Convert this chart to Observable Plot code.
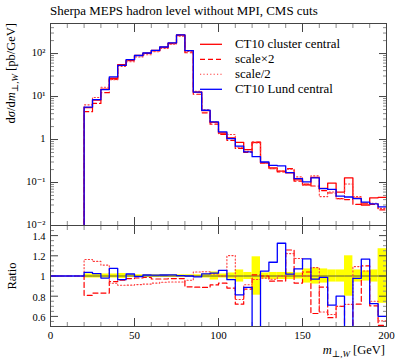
<!DOCTYPE html>
<html><head><meta charset="utf-8">
<script src="https://cdn.jsdelivr.net/npm/d3@7"></script>
<script src="https://cdn.jsdelivr.net/npm/@observablehq/plot@0.6"></script>
<style>
html,body{margin:0;padding:0;background:#fff;}
#chart{position:relative;width:399px;height:360px;}
#chart svg{display:block;}
</style></head><body><div id="chart"></div>
<script>
// ---- data ----
const binLow = [0,5,10,15,20,25,30,35,40,45,50,55,60,65,70,75,80,85,90,95,100,105,110,115,120,125,130,135,140,145,150,155,160,165,170,175,180,185,190,195];
const binWidth = 5;
const clusterCentral = [0,0,0,0,5.5,8.3,14.8,26.6,55,70.6,90.6,102,118,140.6,175,270,117,12.7,4.7,2.5,1.42,1.09,0.86,0.58,0.86,0.286,0.22,0.185,0.167,0.115,0.088,0.132,0.073,0.097,0.06,0.128,0.043,0.030,0.044,0.045];
const scaleTimes2 = [0,0,0,0,4.45,6.9,12.3,25.1,52.8,68.8,88.8,100.5,114.5,136.4,170.6,263,104.5,11.3,4.17,2.28,1.32,0.96,0.62,0.505,0.87,0.286,0.209,0.176,0.21,0.107,0.0915,0.083,0.065,0.057,0.042,0.04,0.031,0.033,0.031,0.023];
const scaleHalf = [0,0,0,0,6.4,9.5,16.4,24.7,50,64.2,82.9,93.8,109.7,132,164.5,254,112,13.2,4.9,2.55,1.42,1.31,0.66,0.53,0.83,0.28,0.213,0.185,0.204,0.135,0.088,0.143,0.047,0.06,0.042,0.092,0.047,0.0315,0.033,0.025];
const lundCentral = [0,0,0,0,5.7,8.5,14.5,28.6,53,72,90,103,119,142,177,271,117,12.6,4.8,2.57,1.5,1.05,0.70,0.515,0.40,0.30,0.25,0.245,0.17,0.123,0.103,0.128,0.072,0.069,0.048,0.046,0.042,0.035,0.032,0.027];
const clusterRelErr = [0,0,0,0,0.02,0.02,0.02,0.02,0.025,0.012,0.012,0.012,0.012,0.012,0.012,0.012,0.012,0.012,0.02,0.04,0.02,0.03,0.06,0.035,0.19,0.03,0.035,0.035,0.035,0.03,0.07,0.08,0.07,0.06,0.06,0.2,0.06,0.05,0.06,0.27];

const seriesNames = ["CT10 cluster central","scale\u00d72","scale/2","CT10 Lund central"];
const xTicks = [0,50,100,150,200];
const xTickLabels = ["0","50","100","150","200"];
const yTicksTop = [0.01,0.1,1,10,100];
const yTickLabelsTop = ["10\u207b\u00b2","10\u207b\u00b9","1","10\u00b9","10\u00b2"];
const ratioTicks = [0.6,0.8,1,1.2,1.4];
const ratioTickLabels = ["0.6","0.8","1","1.2","1.4"];
const titleText = "Sherpa MEPS hadron level without MPI, CMS cuts";

// ---- styles ----
const FONT = "'Liberation Serif','DejaVu Serif',serif";
const RED = "#ff0000", BLUE = "#0000ff";
const styles = [
  {stroke: RED, strokeWidth: 1.3},
  {stroke: RED, strokeWidth: 1.2, strokeDasharray: "5,3"},
  {stroke: "#ff3a3a", strokeWidth: 1.1, strokeDasharray: "1.2,2.2"},
  {stroke: BLUE, strokeWidth: 1.3}
];
const allSeries = [clusterCentral, scaleTimes2, scaleHalf, lundCentral];

function stepPoints(vals, f) {
  const pts = binLow.map((x, i) => ({x, y: f(vals[i], i)}));
  const n = vals.length - 1;
  pts.push({x: binLow[n] + binWidth, y: f(vals[n], n)});
  return pts;
}

const xMinor = d3.range(0, 201, 10).filter(v => !xTicks.includes(v));
const yMinorTop = [];
for (let e = -2; e <= 2; e++) for (let m = 2; m < 10; m++) { const v = m * Math.pow(10, e); if (v < 500) yMinorTop.push(v); }
const ratioMinor = d3.range(0.5, 1.5001, 0.05).map(v => +v.toFixed(2)).filter(v => !ratioTicks.some(t => Math.abs(t - v) < 1e-9));

function frameTicks(xMaj, xMin, yMaj, yMin) {
  const M = "#444", m = "#8a8a8a";
  const out = [];
  for (const anchor of ["top", "bottom"]) {
    out.push(Plot.axisX({anchor, ticks: xMin, tickSize: -4, tickFormat: () => "", stroke: m, label: null}));
    out.push(Plot.axisX({anchor, ticks: xMaj, tickSize: -8, tickFormat: () => "", stroke: M, label: null}));
  }
  for (const anchor of ["left", "right"]) {
    out.push(Plot.axisY({anchor, ticks: yMin, tickSize: -4, tickFormat: () => "", stroke: m, label: null}));
    out.push(Plot.axisY({anchor, ticks: yMaj, tickSize: -8, tickFormat: () => "", stroke: M, label: null}));
  }
  return out;
}

// ---- top panel ----
const FLOOR = 1e-9;
const topMarks = [
  ...frameTicks(xTicks, xMinor, yTicksTop, yMinorTop),
  Plot.axisY({anchor: "left", ticks: yTicksTop, tickSize: 0, tickPadding: 5, label: null,
    tickFormat: d => yTickLabelsTop[yTicksTop.indexOf(d)], fontSize: 10.5, dy: -1}),
  ...allSeries.map((s, k) => Plot.line(stepPoints(s, v => v > 0 ? v : FLOOR),
    {x: "x", y: "y", curve: "step-after", clip: true, ...styles[k]})),
  Plot.frame({stroke: "#444"})
];
const topSvg = Plot.plot({
  width: 399, height: 225, marginTop: 23, marginBottom: 0, marginLeft: 50, marginRight: 13,
  x: {domain: [0, 200], label: null},
  y: {type: "log", domain: [0.01, 500], label: null},
  style: {fontFamily: FONT, fontSize: "11px", background: "transparent", overflow: "visible", color: "#000"},
  marks: topMarks
});

// ---- ratio panel ----
const ref = clusterCentral;
const bandData = binLow.map((x, i) => ({x1: x, x2: x + binWidth, e: clusterRelErr[i]})).filter(d => d.e > 0);
const ratioMarks = [
  Plot.rect(bandData, {x1: "x1", x2: "x2", y1: d => 1 - d.e, y2: d => 1 + d.e, fill: "#ffff00"}),
  ...frameTicks(xTicks, xMinor, ratioTicks, ratioMinor),
  Plot.axisY({anchor: "left", ticks: ratioTicks, tickSize: 0, tickPadding: 5, label: null,
    tickFormat: d => ratioTickLabels[ratioTicks.indexOf(d)], fontSize: 10.5, dy: 1}),
  Plot.axisX({anchor: "bottom", ticks: xTicks, tickSize: 0, tickPadding: 5, label: null,
    tickFormat: d => xTickLabels[xTicks.indexOf(d)], fontSize: 11}),
  Plot.line(stepPoints(ref, (v, i) => ref[i] > 0 ? v / ref[i] : 1).filter(d => d.x >= 20),
    {x: "x", y: "y", curve: "step-after", clip: true, stroke: "#5a5a3a", strokeWidth: 1}),
  ...allSeries.slice(1).map((s, k) => Plot.line(stepPoints(s, (v, i) => ref[i] > 0 ? v / ref[i] : 1),
    {x: "x", y: "y", curve: "step-after", clip: true, ...styles[k + 1]})),
  Plot.frame({stroke: "#444"})
];
const bottomSvg = Plot.plot({
  width: 399, height: 135, marginTop: 0, marginBottom: 34, marginLeft: 50, marginRight: 13,
  x: {domain: [0, 200], label: null},
  y: {domain: [0.5, 1.5], label: null},
  style: {fontFamily: FONT, fontSize: "11px", background: "transparent", overflow: "visible", color: "#000"},
  marks: ratioMarks
});

const chart = document.getElementById("chart");
chart.appendChild(topSvg);
chart.appendChild(bottomSvg);

function fitFont(sel, targetWidth) {
  const w = sel.node().getComputedTextLength();
  const fs = +sel.attr("font-size");
  const nfs = w > 0 ? Math.max(9, Math.min(15, fs * targetWidth / w)) : fs;
  sel.attr("font-size", nfs);
  return nfs;
}

// ---- texts & legend ----
const st = d3.select(topSvg);
const title = st.append("text").attr("x", 50).attr("y", 14.5).attr("text-anchor", "start").attr("font-family", FONT)
  .attr("font-size", 12.5).attr("fill", "#000").text(titleText);
fitFont(title, 268);

const yl = st.append("text").attr("transform", "translate(15,23) rotate(-90)")
  .attr("text-anchor", "end").attr("font-family", FONT).attr("font-size", 12.5).attr("fill", "#000");
yl.append("tspan").text("d");
yl.append("tspan").attr("font-style", "italic").text("\u03c3");
yl.append("tspan").text("/d");
yl.append("tspan").attr("font-style", "italic").text("m");
yl.append("tspan").attr("font-size", 9).attr("dy", 2.5).text("\u22a5,");
yl.append("tspan").attr("font-size", 9).attr("font-style", "italic").text("W");
yl.append("tspan").attr("dy", -2.5).text(" [pb/GeV]");

const legendTexts = seriesNames.map((name, k) => {
  const y = 44.3 + 15 * k;
  const ln = st.append("line").attr("x1", 200).attr("x2", 222).attr("y1", y).attr("y2", y)
    .attr("stroke", styles[k].stroke).attr("stroke-width", styles[k].strokeWidth);
  if (styles[k].strokeDasharray) ln.attr("stroke-dasharray", styles[k].strokeDasharray);
  return st.append("text").attr("x", 235).attr("y", y + 4).attr("text-anchor", "start").attr("font-family", FONT)
    .attr("font-size", 12).attr("fill", "#000").text(name);
});
const legendSize = fitFont(legendTexts[0], 105);
legendTexts.forEach(t => t.attr("font-size", legendSize));

const sb = d3.select(bottomSvg);
sb.append("text").attr("transform", "translate(16,51) rotate(-90)").attr("text-anchor", "middle")
  .attr("font-family", FONT).attr("font-size", 12.5).attr("fill", "#000").text("Ratio");
const xl = sb.append("text").attr("x", 385).attr("y", 129).attr("text-anchor", "end")
  .attr("font-family", FONT).attr("font-size", 12.5).attr("fill", "#000");
xl.append("tspan").attr("font-style", "italic").text("m");
xl.append("tspan").attr("font-size", 9).attr("dy", 2.5).text("\u22a5,");
xl.append("tspan").attr("font-size", 9).attr("font-style", "italic").text("W");
xl.append("tspan").attr("dy", -2.5).text(" [GeV]");
</script>
</body></html>
